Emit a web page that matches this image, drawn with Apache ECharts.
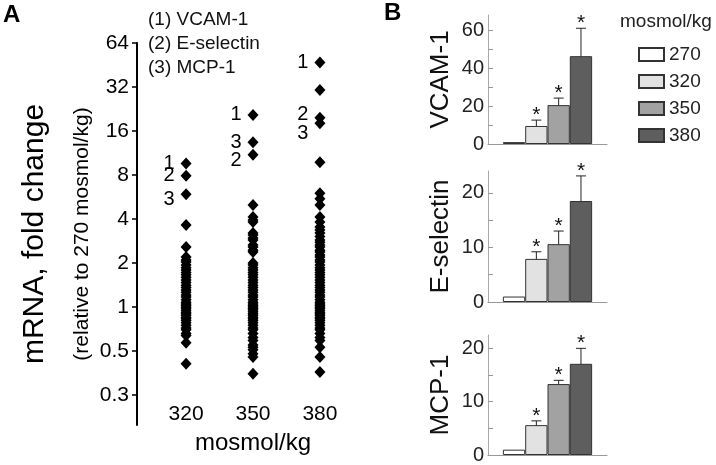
<!DOCTYPE html>
<html><head><meta charset="utf-8">
<script src="https://cdn.jsdelivr.net/npm/echarts@6/dist/echarts.min.js"></script>
<style>html,body{margin:0;padding:0;background:#fff}#c{width:716px;height:465px}</style>
</head><body><div id="c"></div>
<script>
// ---------- DATA ----------
const genes = ['VCAM-1', 'E-selectin', 'MCP-1'];
const osmoCols = [320, 350, 380];
const foldTicks = [0.25, 0.5, 1, 2, 4, 8, 16, 32, 64];
const foldTickLabels = ['0.3', '0.5', '1', '2', '4', '8', '16', '32', '64'];
// labelled genes, order: (1) VCAM-1, (2) E-selectin, (3) MCP-1
const labeled320 = [9.6, 7.9, 5.9];
const labeled350 = [20.6, 11.0, 13.4];
const labeled380 = [47, 19.7, 18.1];
// all other genes (fold change vs 270 mosmol/kg)
const others320 = [3.64, 2.57, 2.2, 2.1, 2.03, 1.94, 1.86, 1.79, 1.72, 1.66, 1.6, 1.53, 1.47, 1.41, 1.36, 1.31, 1.26, 1.21, 1.17, 1.12, 1.08, 1.05, 1.03, 1.0, 0.98, 0.95, 0.92, 0.9, 0.88, 0.85, 0.83, 0.81, 0.78, 0.75, 0.72, 0.7, 0.66, 0.64, 0.57, 0.41];
const others350 = [4.99, 4.13, 3.94, 3.82, 3.21, 3.11, 2.97, 2.87, 2.66, 2.57, 2.45, 2.38, 2.0, 1.94, 1.86, 1.79, 1.72, 1.66, 1.6, 1.53, 1.47, 1.41, 1.36, 1.31, 1.26, 1.21, 1.17, 1.12, 1.08, 1.05, 1.02, 1.0, 0.98, 0.96, 0.93, 0.9, 0.88, 0.85, 0.83, 0.81, 0.78, 0.75, 0.72, 0.7, 0.66, 0.62, 0.59, 0.55, 0.53, 0.51, 0.48, 0.455, 0.35];
const others380 = [30.5, 9.8, 6.0, 5.5, 4.99, 4.13, 3.82, 3.53, 3.36, 3.21, 3.04, 2.87, 2.78, 2.66, 2.57, 2.45, 2.38, 2.27, 2.2, 2.1, 2.03, 1.94, 1.86, 1.79, 1.72, 1.66, 1.6, 1.53, 1.47, 1.41, 1.36, 1.31, 1.26, 1.21, 1.17, 1.12, 1.08, 1.05, 1.02, 1.0, 0.98, 0.95, 0.92, 0.9, 0.88, 0.85, 0.83, 0.81, 0.78, 0.75, 0.72, 0.7, 0.66, 0.62, 0.59, 0.53, 0.455, 0.36];

// panel B
const barOsmo = ['270', '320', '350', '380'];
const vcamMean = [1, 9.5, 20.5, 46.3];
const vcamLo = [null, 6.3, 16.5, 31.6];
const vcamHi = [null, 12.6, 24.2, 61];
const eselMean = [1, 7.9, 10.6, 18.5];
const eselLo = [null, 6.4, 8.3, 13.8];
const eselHi = [null, 9.2, 13.0, 23.1];
const mcpMean = [1, 5.6, 13.3, 17.1];
const mcpLo = [null, 4.9, 12.7, 14.2];
const mcpHi = [null, 6.4, 14.0, 20.0];
const significant = [false, true, true, true];
const barYMax = [68, 24, 22.5];
const barTickValues = [[0, 10, 20, 30, 40, 50, 60], [0, 5, 10, 15, 20], [0, 5, 10, 15, 20]];
const barLabelValues = [[0, 20, 40, 60], [0, 10, 20], [0, 10, 20]];

// ---------- STYLE ----------
const FONT = 'Liberation Sans, Arial, sans-serif';
const barColors = ['#ffffff', '#e2e2e2', '#a2a2a2', '#5e5e5e'];
const labelOffsets = [[0, 0], [0, 0], [0, 5], [0, 0], [0, 6], [0, 0], [0, 0], [0, -3], [0, 10]];
const CAT_GAP = 0.25;

const means = [vcamMean, eselMean, mcpMean];
const los = [vcamLo, eselLo, mcpLo];
const his = [vcamHi, eselHi, mcpHi];
const othersAll = [others320, others350, others380];
const labeledAll = [labeled320, labeled350, labeled380];

function foldLabel(v) {
  let best = 0, bd = Infinity;
  foldTicks.forEach((t, i) => { const d = Math.abs(Math.log2(t) - Math.log2(v)); if (d < bd) { bd = d; best = i; } });
  return foldTickLabels[best];
}

const grids = [
  { left: 137, top: 43, width: 232, height: 382 },
  { left: 488, top: 15, width: 119, height: 129 },
  { left: 488, top: 171, width: 119, height: 131 },
  { left: 488, top: 335, width: 119, height: 124 }
];

const xAxes = [{
  gridIndex: 0, type: 'value', min: 298, max: 402,
  axisLine: { show: false }, axisTick: { show: false }, splitLine: { show: false },
  axisLabel: { customValues: osmoCols, fontSize: 21, color: '#000', fontFamily: FONT, margin: -21 },
  name: 'mosmol/kg', nameLocation: 'middle', nameGap: 4,
  nameTextStyle: { fontSize: 24, color: '#000', fontFamily: FONT, verticalAlign: 'top' }
}];
const yAxes = [{
  gridIndex: 0, type: 'log', logBase: 2, min: 0.156, max: 64,
  axisLine: { show: true, lineStyle: { color: '#000', width: 2 } },
  axisTick: { show: true, customValues: foldTicks, length: 5, lineStyle: { color: '#000', width: 1.5 } },
  axisLabel: { customValues: foldTicks, formatter: foldLabel, fontSize: 21, color: '#000', fontFamily: FONT, margin: 8 },
  splitLine: { show: false },
  name: 'mRNA, fold change', nameLocation: 'middle', nameRotate: 90, nameGap: 87,
  nameTextStyle: { fontSize: 30, color: '#000', fontFamily: FONT }
}];

genes.forEach((g, i) => {
  xAxes.push({
    gridIndex: i + 1, type: 'category', data: [g],
    axisLine: { show: true, lineStyle: { color: '#999', width: 1 } },
    axisTick: { show: false }, axisLabel: { show: false }
  });
  yAxes.push({
    gridIndex: i + 1, type: 'value', min: 0, max: barYMax[i],
    axisLine: { show: true, lineStyle: { color: '#aaa', width: 1 } },
    axisTick: { show: true, inside: true, length: 5, customValues: barTickValues[i], lineStyle: { color: '#999' } },
    axisLabel: { customValues: barLabelValues[i], fontSize: 20, color: '#222', fontFamily: FONT, margin: 4 },
    splitLine: { show: false },
    name: g, nameLocation: 'middle', nameRotate: 90, nameGap: 34,
    nameTextStyle: { fontSize: 26, color: '#111', fontFamily: FONT }
  });
});

const series = [];
osmoCols.forEach((c, ci) => {
  series.push({
    type: 'scatter', xAxisIndex: 0, yAxisIndex: 0,
    symbol: 'diamond', symbolSize: [11, 12],
    itemStyle: { color: '#000', opacity: 1 },
    data: othersAll[ci].map(v => [c, v]),
    silent: true
  });
});
const labData = [];
osmoCols.forEach((c, ci) => {
  labeledAll[ci].forEach((v, gi) => {
    labData.push({ value: [c, v], label: { formatter: String(gi + 1), offset: labelOffsets[ci * 3 + gi] } });
  });
});
series.push({
  type: 'scatter', xAxisIndex: 0, yAxisIndex: 0,
  symbol: 'diamond', symbolSize: [11, 12], itemStyle: { color: '#000', opacity: 1 },
  label: { show: true, position: 'left', distance: 6, fontSize: 20, color: '#000', fontFamily: FONT },
  data: labData, silent: true
});

genes.forEach((g, gi) => {
  barOsmo.forEach((o, k) => {
    series.push({
      type: 'bar', name: o, xAxisIndex: gi + 1, yAxisIndex: gi + 1,
      barGap: '0%', barCategoryGap: (CAT_GAP * 100) + '%',
      itemStyle: { color: barColors[k], borderColor: '#333', borderWidth: 1 },
      data: [means[gi][k]], silent: true
    });
  });
  const errData = [];
  barOsmo.forEach((o, k) => {
    if (los[gi][k] != null) errData.push([0, means[gi][k], los[gi][k], his[gi][k], k, significant[k] ? 1 : 0]);
  });
  series.push({
    type: 'custom', xAxisIndex: gi + 1, yAxisIndex: gi + 1, silent: true,
    encode: { x: 0, y: [2, 3] },
    data: errData,
    renderItem: function (params, api) {
      const k = api.value(4);
      const c = api.coord([api.value(0), api.value(1)]);
      const bw = api.size([1, 0])[0];
      const grp = bw * (1 - CAT_GAP);
      const w = grp / barOsmo.length;
      const x = c[0] - grp / 2 + w * (k + 0.5);
      const yl = api.coord([0, api.value(2)])[1];
      const yh = api.coord([0, api.value(3)])[1];
      const st = { stroke: '#222', lineWidth: 1 };
      const children = [
        { type: 'line', shape: { x1: x, y1: yl, x2: x, y2: yh }, style: st },
        { type: 'line', shape: { x1: x - 5, y1: yl, x2: x + 5, y2: yl }, style: st },
        { type: 'line', shape: { x1: x - 5, y1: yh, x2: x + 5, y2: yh }, style: st }
      ];
      if (api.value(5)) {
        children.push({ type: 'text', x: x, y: yh - 5, style: { text: '*', fontSize: 21, fontFamily: FONT, fill: '#111', align: 'center', verticalAlign: 'middle' } });
      }
      return { type: 'group', children: children };
    }
  });
});

const option = {
  animation: false,
  backgroundColor: '#fff',
  title: [
    { text: 'A', left: 3, top: 3, padding: 0, textStyle: { fontSize: 24, fontWeight: 'bold', color: '#000', fontFamily: FONT } },
    { text: 'B', left: 384, top: 1, padding: 0, textStyle: { fontSize: 24, fontWeight: 'bold', color: '#000', fontFamily: FONT } },
    { text: genes.map((g, i) => '(' + (i + 1) + ') ' + g).join('\n'), left: 148, top: 8, padding: 0,
      textStyle: { fontSize: 19, fontWeight: 'normal', color: '#111', fontFamily: FONT, lineHeight: 24 } },
    { text: 'mosmol/kg', left: 620, top: 12, padding: 0, textStyle: { fontSize: 19, fontWeight: 'normal', color: '#222', fontFamily: FONT } }
  ],
  legend: {
    data: barOsmo, orient: 'vertical', left: 638, top: 45, padding: 0,
    itemWidth: 25, itemHeight: 13, itemGap: 8, icon: 'rect', selectedMode: false,
    textStyle: { fontSize: 19, color: '#222', fontFamily: FONT }
  },
  graphic: [{
    type: 'text', x: 82, y: 234, rotation: Math.PI / 2,
    style: { text: '(relative to 270 mosmol/kg)', fontSize: 21, fontFamily: FONT, fill: '#000', align: 'center', verticalAlign: 'middle' }
  }],
  grid: grids,
  xAxis: xAxes,
  yAxis: yAxes,
  series: series
};
const chart = echarts.init(document.getElementById('c'), null, { renderer: 'canvas' });
chart.setOption(option);
</script>
</body></html>
